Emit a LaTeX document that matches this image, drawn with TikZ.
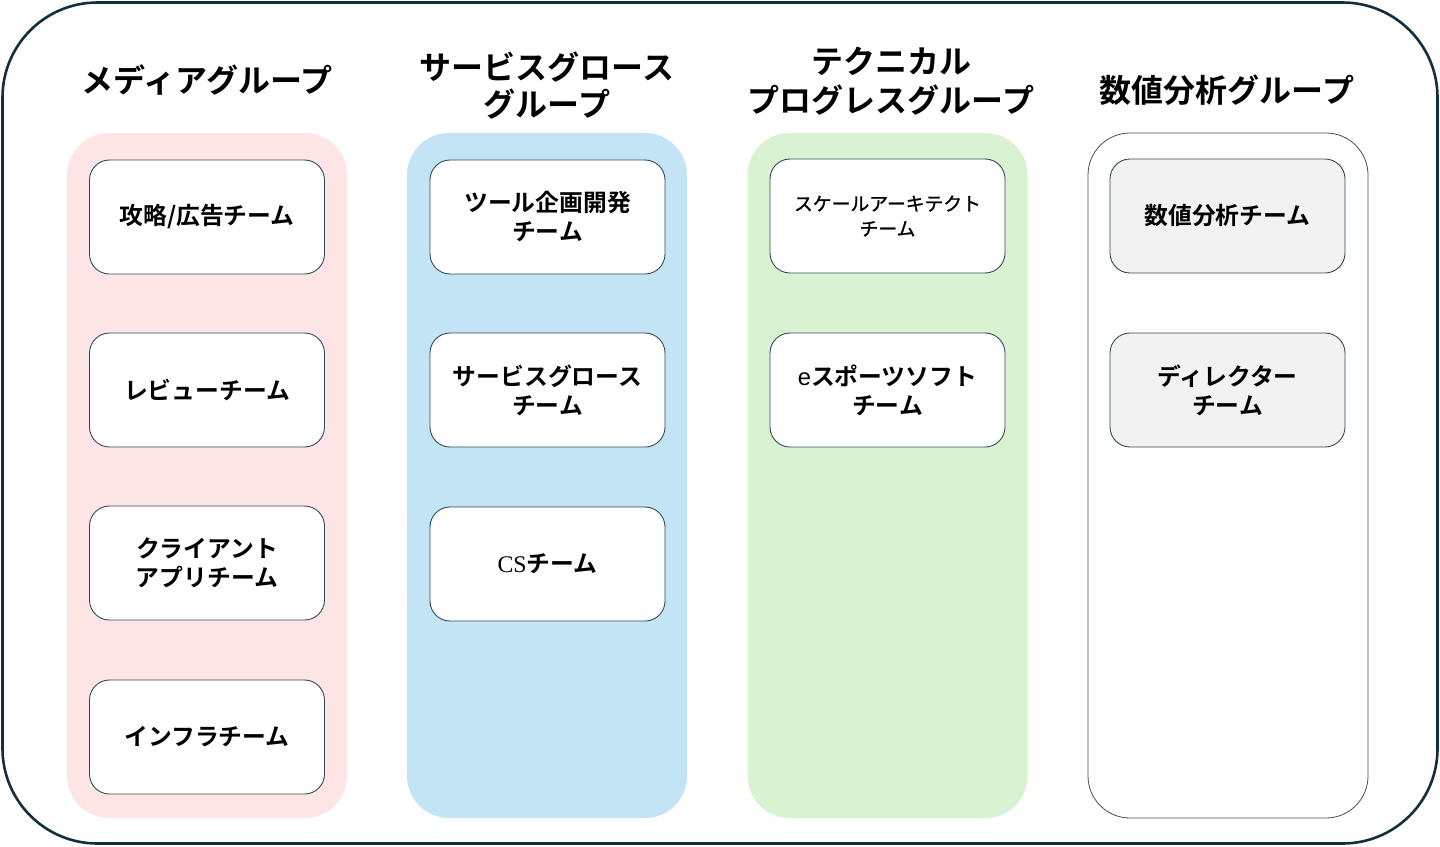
\documentclass[tikz,border=0pt]{standalone}
\usepackage{fontspec}
\setmainfont{Noto Sans CJK JP}[BoldFont={Noto Sans CJK JP Bold}]
\newfontfamily\jpmed{Noto Sans CJK JP}[FakeBold=1.2]
\newfontfamily\latserif{Liberation Serif}
\newfontfamily\latsans{Liberation Sans}
\definecolor{outerc}{HTML}{112F3E}
\definecolor{boxc}{HTML}{34495A}
\definecolor{pinkc}{HTML}{FDE5E5}
\definecolor{bluec}{HTML}{C2E4F4}
\definecolor{greenc}{HTML}{D9F2D1}
\definecolor{grayc}{HTML}{F2F2F2}
\begin{document}
\begin{tikzpicture}[x=1pt,y=-1pt,
  colbox/.style={rounded corners=42pt, minimum width=280pt, minimum height=685pt, inner sep=0pt},
  teambox/.style={draw=boxc, line width=0.9pt, fill=white, rounded corners=20pt, minimum width=235pt, minimum height=114pt, inner sep=0pt, align=center, font=\bfseries\fontsize{23.8}{29}\selectfont},
  header/.style={align=center, font=\bfseries\fontsize{32}{37}\selectfont}]
\useasboundingbox (0,0) rectangle (1440,846);
\draw[outerc, line width=2.6pt, rounded corners=95pt] (2.5,2.5) rectangle (1437.5,843.5);
% columns
\node[colbox, fill=pinkc] (c1) at (207,475.5) {};
\node[colbox, fill=bluec] (c2) at (547,475.5) {};
\node[colbox, fill=greenc] (c3) at (887.5,475.5) {};
\node[colbox, draw=black!70, line width=0.8pt, fill=white] (c4) at (1228,475.5) {};
% headers
\node[header] (h1) at (207,80) {メディアグループ};
\node[header] (h2) at (547,86) {サービスグロース\\グループ};
\node[header, font=\bfseries\fontsize{32}{39}\selectfont] (h3) at (891,81) {テクニカル\\プログレスグループ};
\node[header] (h4) at (1227,90) {数値分析グループ};
% column 1
\node[teambox] (t11) at (207,217) {攻略/広告チーム};
\node[teambox] (t12) at (207,390) {レビューチーム};
\node[teambox] (t13) at (207,563) {クライアント\\アプリチーム};
\node[teambox] (t14) at (207,737) {インフラチーム};
% column 2
\node[teambox] (t21) at (547.5,217) {ツール企画開発\\チーム};
\node[teambox] (t22) at (547.5,390) {サービスグロース\\チーム};
\node[teambox] (t23) at (547.5,564) {{\latserif\mdseries CS}チーム};
% column 3
\node[teambox, font=\jpmed\fontsize{18.8}{25}\selectfont] (t31) at (887.5,216) {スケールアーキテクト\\チーム};
\node[teambox] (t32) at (887.5,390) {{\latsans\mdseries e}スポーツソフト\\チーム};
% column 4
\node[teambox, fill=grayc] (t41) at (1227.5,216) {数値分析チーム};
\node[teambox, fill=grayc] (t42) at (1227.5,390) {ディレクター\\チーム};
\end{tikzpicture}
\end{document}
